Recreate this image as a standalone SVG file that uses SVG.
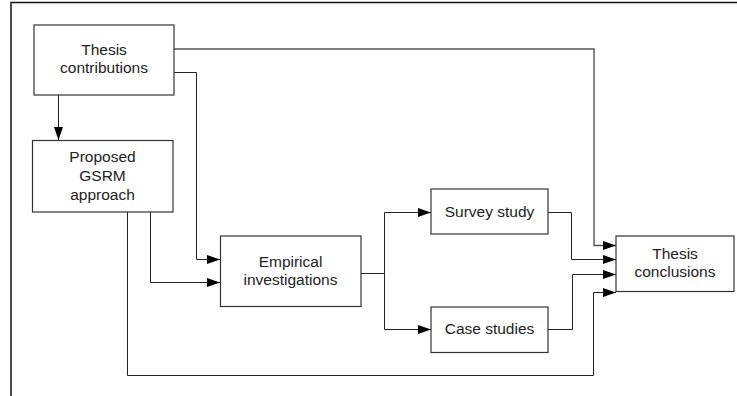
<svg xmlns="http://www.w3.org/2000/svg" width="737" height="396" viewBox="0 0 737 396">
  <style>
    .box { fill: #ffffff; stroke: #333333; stroke-width: 1.2; }
    .lbl { font-family: "Liberation Sans", Arial, sans-serif; font-size: 15.5px; fill: #222222; text-anchor: middle; }
    .wire { fill: none; stroke: #222222; stroke-width: 1; }
    .wire.soft { stroke: #555555; stroke-width: 1.4; }
    .frame { fill: none; stroke: #111111; stroke-width: 1.5; }
  </style>
  <defs>
    <marker id="arrow" viewBox="0 0 13 9" refX="13" refY="4.5" markerWidth="13" markerHeight="9" markerUnits="userSpaceOnUse" orient="auto">
      <path d="M0,0 L13,4.5 L0,9 Z" fill="#000000"/>
    </marker>
  </defs>

  <rect width="737" height="396" fill="#ffffff"/>
  <path class="frame" d="M11,396 V2.5 H737"/>

  <g id="connectors">
    <!-- contributions -> GSRM -->
    <path class="wire" d="M58.5,95 V140" marker-end="url(#arrow)"/>
    <!-- contributions -> conclusions -->
    <path class="wire soft" d="M174,49 H594 V245.5 H616" marker-end="url(#arrow)"/>
    <!-- contributions -> empirical -->
    <path class="wire" d="M174,72.5 H196.5 V259.5 H220" marker-end="url(#arrow)"/>
    <!-- GSRM -> empirical -->
    <path class="wire" d="M150.5,212 V282.5 H220" marker-end="url(#arrow)"/>
    <!-- GSRM -> conclusions -->
    <path class="wire" d="M127.5,212 V375.5 H593.5 V292.5 H616" marker-end="url(#arrow)"/>
    <!-- empirical -> survey / case -->
    <path class="wire" d="M361,273.5 H384.5"/>
    <path class="wire" d="M384.5,273.5 V212.5 H431" marker-end="url(#arrow)"/>
    <path class="wire" d="M384.5,273.5 V329.5 H431" marker-end="url(#arrow)"/>
    <!-- survey -> conclusions -->
    <path class="wire" d="M548,212.5 H571.5 V259.5 H616" marker-end="url(#arrow)"/>
    <!-- case -> conclusions -->
    <path class="wire" d="M548,329.5 H572.5 V274.5 H616" marker-end="url(#arrow)"/>
  </g>

  <g id="thesis-contributions">
    <rect class="box" x="34" y="25" width="140" height="70"/>
    <text class="lbl" x="104" y="55">Thesis</text>
    <text class="lbl" x="104" y="73">contributions</text>
  </g>

  <g id="gsrm-approach">
    <rect class="box" x="32.5" y="140.5" width="140.5" height="71.5"/>
    <text class="lbl" x="102.5" y="162">Proposed</text>
    <text class="lbl" x="102.5" y="181">GSRM</text>
    <text class="lbl" x="102.5" y="200">approach</text>
  </g>

  <g id="empirical-investigations">
    <rect class="box" x="220.5" y="236" width="140.5" height="70.5"/>
    <text class="lbl" x="290.5" y="266.5">Empirical</text>
    <text class="lbl" x="290.5" y="285">investigations</text>
  </g>

  <g id="survey-study">
    <rect class="box" x="431" y="189" width="117" height="45"/>
    <text class="lbl" x="489.5" y="217">Survey study</text>
  </g>

  <g id="case-studies">
    <rect class="box" x="431" y="307" width="117" height="45.5"/>
    <text class="lbl" x="489.5" y="334">Case studies</text>
  </g>

  <g id="thesis-conclusions">
    <rect class="box" x="616" y="236" width="118" height="55.5"/>
    <text class="lbl" x="675" y="259">Thesis</text>
    <text class="lbl" x="675" y="277">conclusions</text>
  </g>
</svg>
